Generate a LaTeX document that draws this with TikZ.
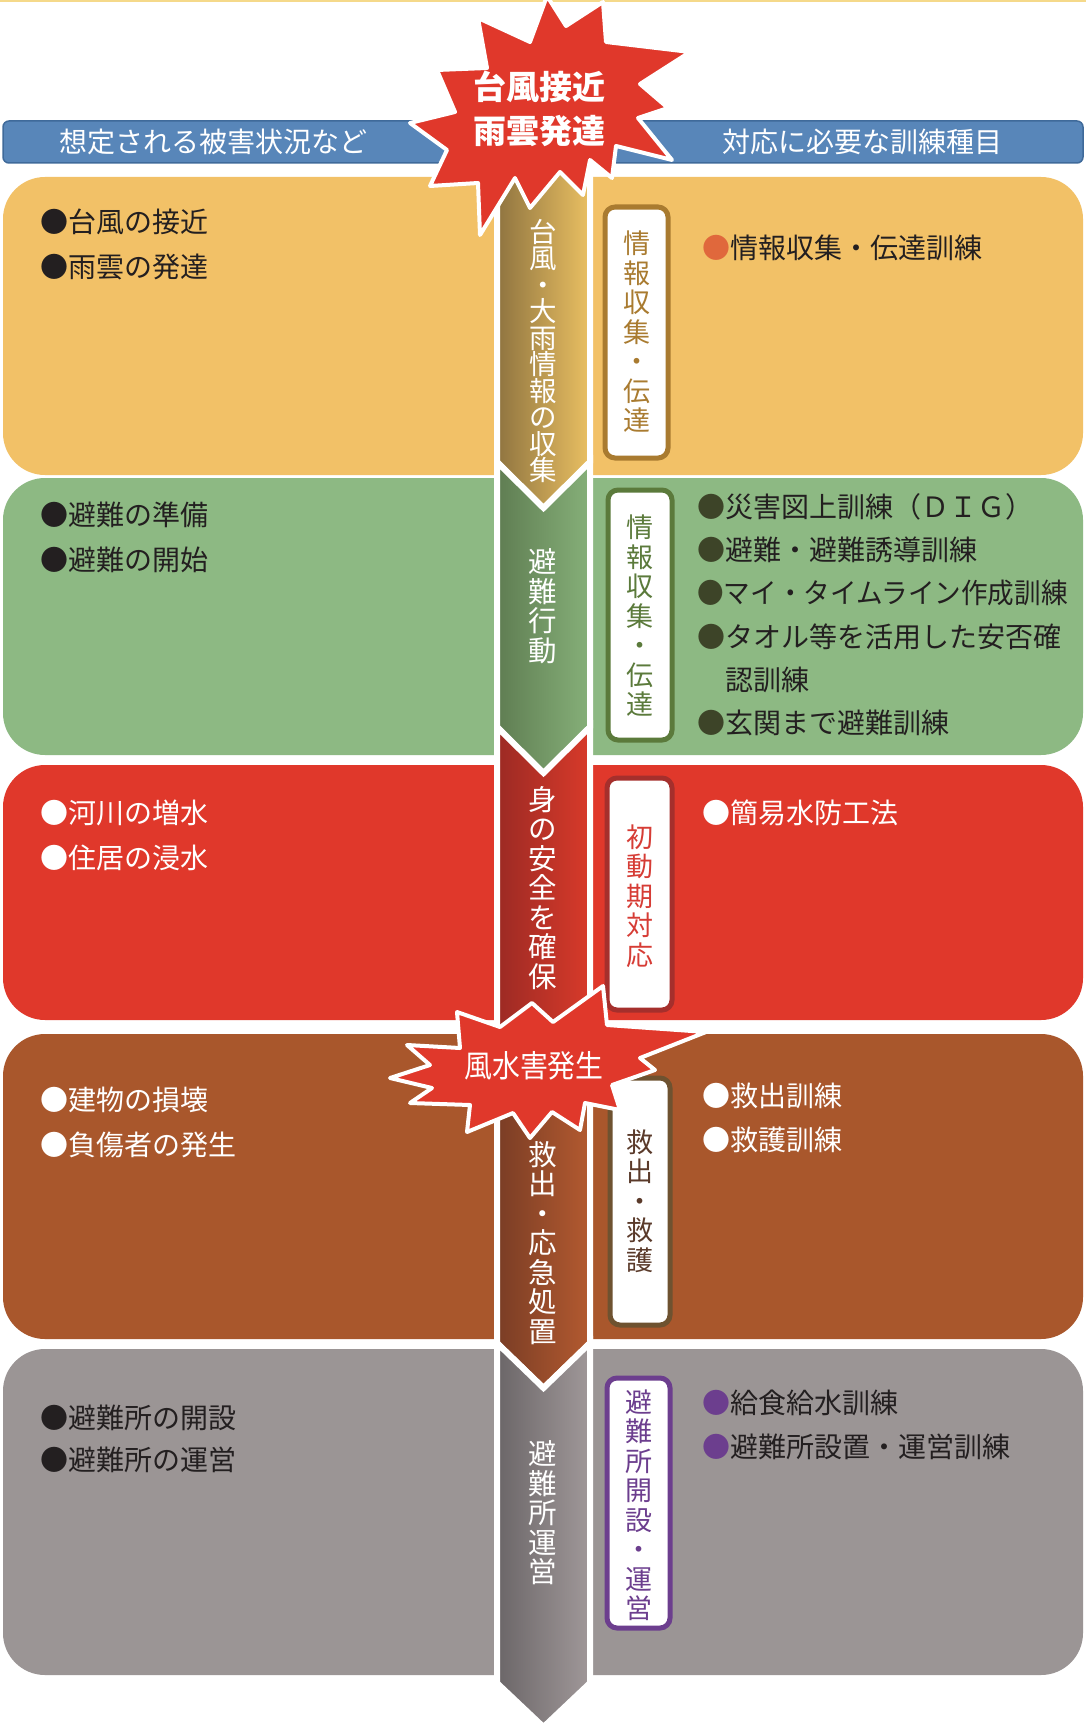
\documentclass[tikz,border=0pt]{standalone}
\usepackage{fontspec}
\setmainfont{Noto Sans CJK JP}
\definecolor{cyel}{HTML}{F2C167}
\definecolor{cgrn}{HTML}{8DB983}
\definecolor{cred}{HTML}{E0382B}
\definecolor{cbrn}{HTML}{A9572C}
\definecolor{cgry}{HTML}{9B9595}
\definecolor{cblue}{HTML}{5886B9}
\definecolor{cbluedk}{HTML}{3F6A9A}
\definecolor{ctxt}{HTML}{231F20}
\definecolor{bxyel}{HTML}{A97B30}
\definecolor{bxgrn}{HTML}{5B7A3B}
\definecolor{bxred}{HTML}{A52F2C}
\definecolor{txred}{HTML}{D63C35}
\definecolor{bxbrn}{HTML}{6E5230}
\definecolor{txbrn}{HTML}{5A3A2A}
\definecolor{bxpur}{HTML}{6C3E8E}
\definecolor{blorg}{HTML}{E0683C}
\definecolor{blgrn}{HTML}{3D4428}
\definecolor{sIl}{HTML}{8F7440}\definecolor{sIr}{HTML}{EAC062}
\definecolor{sIIl}{HTML}{5F7D52}\definecolor{sIIr}{HTML}{86B079}
\definecolor{sIIIl}{HTML}{9C2A24}\definecolor{sIIIr}{HTML}{D83A2A}
\definecolor{sIVl}{HTML}{7A3D25}\definecolor{sIVr}{HTML}{B35A30}
\definecolor{sVl}{HTML}{6B6668}\definecolor{sVr}{HTML}{A09899}
\definecolor{topln}{HTML}{F5D98A}
\begin{document}
\begin{tikzpicture}[x=1pt,y=-1pt,
  panel/.style={rounded corners=42pt},
  lbox/.style={draw=#1, line width=5pt, fill=white, rounded corners=10pt},
  vt/.style={align=center, inner sep=0pt, font=\fontsize{27}{29.5}\selectfont},
  ct/.style={vt, text=white, font=\fontsize{28.5}{29.5}\selectfont},
  item/.style={anchor=west, inner sep=0pt, font=\fontsize{28}{32}\selectfont, text=ctxt},
  witem/.style={item, text=white},
  seg/.style 2 args={left color=#1, right color=#2, draw=white, line width=6pt, line join=miter},
  burst/.style={fill=cred, draw=white, line width=4pt, line join=round},
  hdrtext/.style={text=white, inner sep=0pt, font=\fontsize{28}{30}\selectfont},
]
\useasboundingbox (0,0) rectangle (1086,1731);
\fill[white] (0,0) rectangle (1086,1731);
\draw[topln, line width=2pt] (0,1) -- (1086,1);

% panels
\fill[cyel, panel] (3,177) rectangle (1083,475);
\fill[cgrn, panel] (3,478) rectangle (1083,755);
\fill[cred, panel] (3,765) rectangle (1083,1020);
\fill[cbrn, panel] (3,1034) rectangle (1083,1339);
\fill[cgry, panel] (3,1349) rectangle (1083,1675);

% header bar
\draw[fill=cblue, draw=cbluedk, line width=1.5pt, rounded corners=6pt] (3,121) rectangle (1083,163);
\node[hdrtext] (hleft) at (213,142) {想定される被害状況など};
\node[hdrtext] (hright) at (862,142) {対応に必要な訓練種目};

% central column
\path[seg={sIl}{sIr}] (497,165) -- (590,165) -- (590,462) -- (543.5,508) -- (497,462) -- cycle;
\path[seg={sIIl}{sIIr}] (497,462) -- (543.5,508) -- (590,462) -- (590,727) -- (543.5,773) -- (497,727) -- cycle;
\path[seg={sIIIl}{sIIIr}] (497,727) -- (543.5,773) -- (590,727) -- (590,1030) -- (543.5,1076) -- (497,1030) -- cycle;
\path[seg={sIVl}{sIVr}] (497,1030) -- (543.5,1076) -- (590,1030) -- (590,1343) -- (543.5,1388) -- (497,1343) -- cycle;
\path[seg={sVl}{sVr}] (497,1343) -- (543.5,1388) -- (590,1343) -- (590,1683) -- (543.5,1727) -- (497,1683) -- cycle;

\node[ct, font=\fontsize{27.5}{26.5}\selectfont] (c1) at (543,351) {台\\風\\・\\大\\雨\\情\\報\\の\\収\\集};
\node[ct] (c2) at (543,606) {避\\難\\行\\動};
\node[ct] (c3) at (543,888) {身\\の\\安\\全\\を\\確\\保};
\node[ct] (c4) at (543,1243) {救\\出\\・\\応\\急\\処\\置};
\node[ct] (c5) at (543,1513) {避\\難\\所\\運\\営};

% starburst 1
\path[burst] (547,-4) -- (566,26) -- (603,2) -- (606,42) -- (690,52) -- (640,84) -- (668,108) -- (638,118) -- (672,160) -- (616,146) -- (612,178) -- (590,160) -- (583,195) -- (560,172) -- (530,208) -- (515,178) -- (480,235) -- (478,183) -- (430,186) -- (447,150) -- (410,123) -- (455,112) -- (437,70) -- (487,68) -- (478,18) -- (530,42) -- cycle;
\node[text=white, align=center, inner sep=0pt, font=\fontsize{33}{44}\selectfont\bfseries] (b1) at (539,109) {台風接近\\雨雲発達};

% right label boxes
\draw[lbox=bxyel] (605,207) rectangle (668,458);
\node[vt, text=bxyel] (l1) at (636.5,332) {情\\報\\収\\集\\・\\伝\\達};
\draw[lbox=bxgrn] (608,490) rectangle (672,740);
\node[vt, text=bxgrn] (l2) at (640,616) {情\\報\\収\\集\\・\\伝\\達};
\draw[lbox=bxred] (607,778) rectangle (672,1010);
\node[vt, text=txred] (l3) at (639.5,896) {初\\動\\期\\対\\応};
\draw[lbox=bxbrn] (610,1078) rectangle (670,1325);
\node[vt, text=txbrn] (l4) at (640,1201) {救\\出\\・\\救\\護};
\draw[lbox=bxpur] (607,1378) rectangle (670,1628);
\node[vt, text=bxpur] (l5) at (638.5,1505) {避\\難\\所\\開\\設\\・\\運\\営};

% starburst 2
\path[burst] (390,1078) -- (430,1065) -- (407,1045) -- (460,1048) -- (457,1012) -- (500,1027) -- (532,1003) -- (553,1022) -- (603,986) -- (607,1025) -- (706,1032) -- (640,1058) -- (655,1070) -- (612,1085) -- (620,1110) -- (585,1103) -- (580,1130) -- (552,1112) -- (530,1138) -- (513,1113) -- (467,1132) -- (470,1105) -- (410,1103) -- (432,1088) -- cycle;
\node[text=white, inner sep=0pt, font=\fontsize{31}{32}\selectfont] (b2) at (534,1066) {\scalebox{0.9}[1]{風水害発生}};

% left items
\node[item] (y1) at (40,222) {●台風の接近};
\node[item] (y2) at (40,267) {●雨雲の発達};
\node[item] (g1) at (40,515) {●避難の準備};
\node[item] (g2) at (40,560) {●避難の開始};
\node[witem] (r1) at (40,813) {●河川の増水};
\node[witem] (r2) at (40,858) {●住居の浸水};
\node[witem] (w1) at (40,1100) {●建物の損壊};
\node[witem] (w2) at (40,1145) {●負傷者の発生};
\node[item] (s1) at (40,1418) {●避難所の開設};
\node[item] (s2) at (40,1460) {●避難所の運営};

% right items
\node[item] (ry1) at (702,248) {\textcolor{blorg}{●}情報収集・伝達訓練};
\node[item] (rg1) at (697,507) {\textcolor{blgrn}{●}災害図上訓練（ＤＩＧ）};
\node[item] (rg2) at (697,550) {\textcolor{blgrn}{●}避難・避難誘導訓練};
\node[item] (rg3) at (697,593) {\scalebox{0.95}[1]{\textcolor{blgrn}{●}マイ・タイムライン作成訓練}};
\node[item] (rg4) at (697,637) {\textcolor{blgrn}{●}タオル等を活用した安否確};
\node[item] (rg5) at (725,680) {認訓練};
\node[item] (rg6) at (697,723) {\textcolor{blgrn}{●}玄関まで避難訓練};
\node[witem] (rr1) at (702,813) {●簡易水防工法};
\node[witem] (rw1) at (702,1096) {●救出訓練};
\node[witem] (rw2) at (702,1140) {●救護訓練};
\node[item] (rs1) at (702,1403) {\textcolor{bxpur}{●}給食給水訓練};
\node[item] (rs2) at (702,1447) {\textcolor{bxpur}{●}避難所設置・運営訓練};
\end{tikzpicture}
\end{document}
